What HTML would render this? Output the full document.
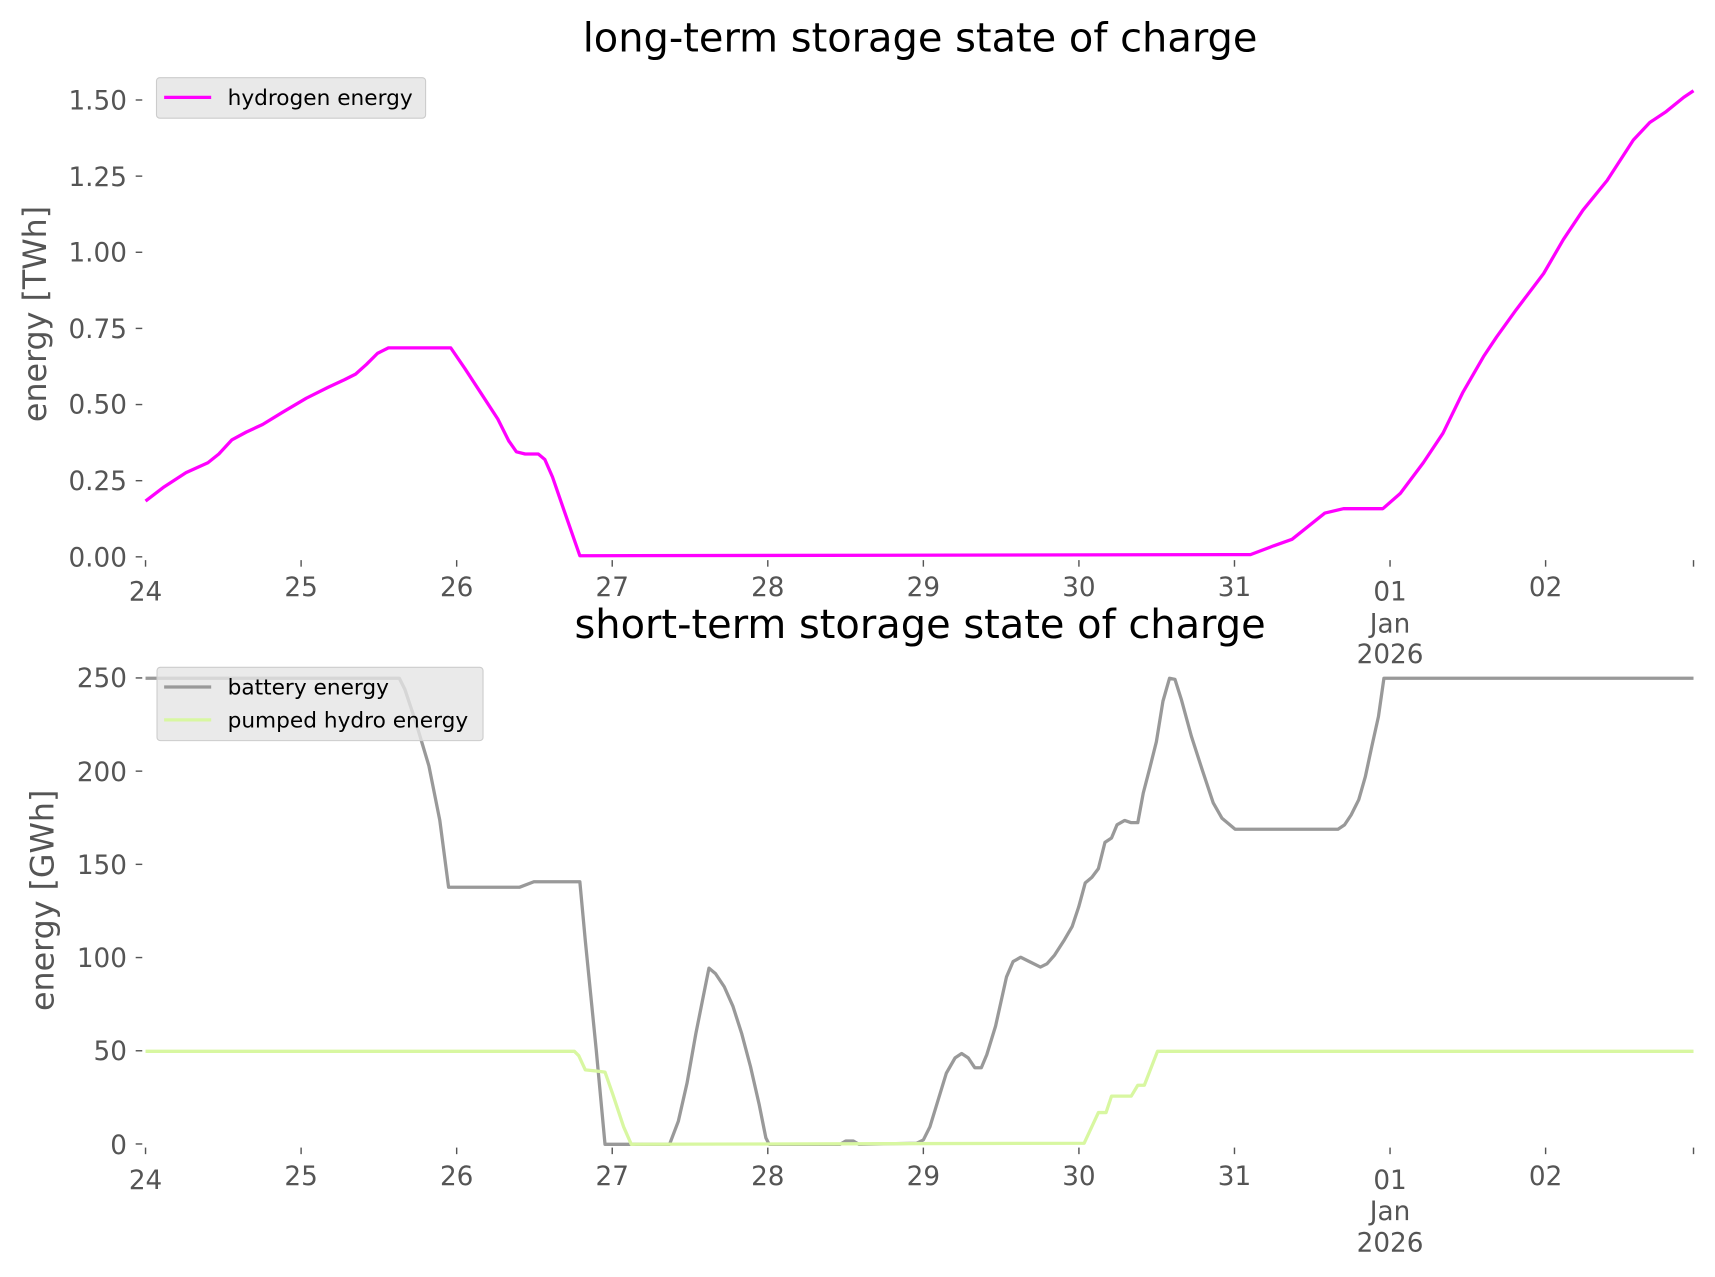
<!DOCTYPE html>
<html><head><meta charset="utf-8"><style>
html,body{margin:0;padding:0;background:#fff;}
svg{display:block;}
text{font-family:"DejaVu Sans","Liberation Sans",sans-serif;}
.t{fill:#555;font-size:24px;}
.tt{fill:#000;font-size:36.5px;}
.yl{fill:#555;font-size:29px;}
.lg{fill:#000;font-size:19.8px;}
</style></head><body>
<svg width="1715" height="1277" viewBox="0 0 1567.6 1167.3" xmlns="http://www.w3.org/2000/svg">
<rect width="1567.6" height="1167.3" fill="#fff"/>
<text class="tt" x="841" y="47" text-anchor="middle">long-term storage state of charge</text>
<text class="yl" transform="translate(42,287) rotate(-90)" text-anchor="middle">energy [TWh]</text>
<g stroke="#555" stroke-width="1.3">
<line x1="124" y1="509" x2="130" y2="509"/><line x1="124" y1="439.4" x2="130" y2="439.4"/><line x1="124" y1="369.8" x2="130" y2="369.8"/><line x1="124" y1="300.2" x2="130" y2="300.2"/><line x1="124" y1="230.6" x2="130" y2="230.6"/><line x1="124" y1="161" x2="130" y2="161"/><line x1="124" y1="91.4" x2="130" y2="91.4"/>
</g>
<g class="t" text-anchor="end">
<text x="116" y="518">0.00</text><text x="116" y="448">0.25</text><text x="116" y="378">0.50</text><text x="116" y="309">0.75</text><text x="116" y="239">1.00</text><text x="116" y="170">1.25</text><text x="116" y="100">1.50</text>
</g>
<g stroke="#555" stroke-width="1.3">
<line x1="133" y1="512" x2="133" y2="518"/><line x1="275.2" y1="512" x2="275.2" y2="518"/><line x1="417.4" y1="512" x2="417.4" y2="518"/><line x1="559.6" y1="512" x2="559.6" y2="518"/><line x1="701.8" y1="512" x2="701.8" y2="518"/><line x1="844" y1="512" x2="844" y2="518"/><line x1="986.2" y1="512" x2="986.2" y2="518"/><line x1="1128.4" y1="512" x2="1128.4" y2="518"/><line x1="1270.6" y1="512" x2="1270.6" y2="518"/><line x1="1412.8" y1="512" x2="1412.8" y2="518"/><line x1="1548" y1="512" x2="1548" y2="518"/>
</g>
<g class="t" text-anchor="middle">
<text x="133" y="549">24</text><text x="275.2" y="545">25</text><text x="417.4" y="545">26</text><text x="559.6" y="545">27</text><text x="701.8" y="545">28</text><text x="844" y="545">29</text><text x="986.2" y="545">30</text><text x="1128.4" y="545">31</text><text x="1270.6" y="549">01</text><text x="1270.6" y="578">Jan</text><text x="1270.6" y="606">2026</text><text x="1412.8" y="545">02</text>
</g>
<polyline fill="none" stroke="#ff00ff" stroke-width="3" stroke-linejoin="round" points="133,458 150,445 170,432 190,423 200,415 212,402 225,395 240,388 258,377 280,364 300,354 315,347 325,342 335,333 345,323 355,318 412,318 425,337 440,360 455,383 465,403 472,413 480,415 492,415 498,420 505,436 515,465 530,508 1124,507 1143,507 1164,499 1181,493 1211,469 1228,465 1264,465 1280,451 1301,423 1319,396 1337,359 1356,326 1368,308 1386,283 1411,250 1429,219 1447,192 1469,165 1493,128 1508,112 1523,102 1539,89 1548,83"/>
<rect x="143" y="71" width="246" height="37" rx="3" fill="#e5e5e5" fill-opacity="0.85" stroke="#cccccc" stroke-width="1"/>
<line x1="150" y1="89" x2="193" y2="89" stroke="#ff00ff" stroke-width="3"/>
<text class="lg" x="208" y="96">hydrogen energy</text>

<text class="tt" x="841" y="583" text-anchor="middle">short-term storage state of charge</text>
<text class="yl" transform="translate(49,823) rotate(-90)" text-anchor="middle">energy [GWh]</text>
<g stroke="#555" stroke-width="1.3">
<line x1="124" y1="1045.7" x2="130" y2="1045.7"/><line x1="124" y1="960.5" x2="130" y2="960.5"/><line x1="124" y1="875.3" x2="130" y2="875.3"/><line x1="124" y1="790.1" x2="130" y2="790.1"/><line x1="124" y1="704.9" x2="130" y2="704.9"/><line x1="124" y1="619.7" x2="130" y2="619.7"/>
</g>
<g class="t" text-anchor="end">
<text x="116" y="1055">0</text><text x="116" y="969">50</text><text x="116" y="884">100</text><text x="116" y="799">150</text><text x="116" y="714">200</text><text x="116" y="628">250</text>
</g>
<g stroke="#555" stroke-width="1.3">
<line x1="133" y1="1049" x2="133" y2="1055"/><line x1="275.2" y1="1049" x2="275.2" y2="1055"/><line x1="417.4" y1="1049" x2="417.4" y2="1055"/><line x1="559.6" y1="1049" x2="559.6" y2="1055"/><line x1="701.8" y1="1049" x2="701.8" y2="1055"/><line x1="844" y1="1049" x2="844" y2="1055"/><line x1="986.2" y1="1049" x2="986.2" y2="1055"/><line x1="1128.4" y1="1049" x2="1128.4" y2="1055"/><line x1="1270.6" y1="1049" x2="1270.6" y2="1055"/><line x1="1412.8" y1="1049" x2="1412.8" y2="1055"/><line x1="1548" y1="1049" x2="1548" y2="1055"/>
</g>
<g class="t" text-anchor="middle">
<text x="133" y="1087">24</text><text x="275.2" y="1083">25</text><text x="417.4" y="1083">26</text><text x="559.6" y="1083">27</text><text x="701.8" y="1083">28</text><text x="844" y="1083">29</text><text x="986.2" y="1083">30</text><text x="1128.4" y="1083">31</text><text x="1270.6" y="1087">01</text><text x="1270.6" y="1115">Jan</text><text x="1270.6" y="1144">2026</text><text x="1412.8" y="1083">02</text>
</g>
<polyline fill="none" stroke="#999999" stroke-width="3" stroke-linejoin="round" points="133,620 365,620 370,630 380,660 392,700 402,750 410,811 475,811 488,806 530,806 535,860 545,960 553,1046 612,1046 620,1025 628,990 636,945 642,915 648,885 654,890 662,902 670,920 678,945 686,975 694,1010 700,1040 703,1046 768,1046 773,1043 780,1043 785,1046 838,1045 844,1042 850,1030 865,981 873,967 879,963 885,967 891,976 897,976 902,964 910,938 920,893 926,879 933,875 941,879 951,884 957,881 964,873 973,859 980,847 986,829 992,807 998,802 1004,794 1010,770 1016,766 1021,754 1028,750 1034,752 1040,752 1045,725 1051,702 1057,678 1063,641 1069,620 1074,621 1080,640 1089,673 1099,704 1109,734 1117,748 1129,758 1223,758 1229,754 1235,745 1242,731 1248,710 1254,682 1260,655 1265,620 1548,620"/>
<polyline fill="none" stroke="#d8f7a1" stroke-width="3" stroke-linejoin="round" points="133,961 525,961 529,965 535,978 545,979 553,980 560,1000 570,1030 577,1046 991,1045 1004,1017 1011,1017 1016,1002 1034,1002 1040,992 1046,992 1058,961 1548,961"/>
<rect x="143.5" y="610" width="298" height="67" rx="3" fill="#e5e5e5" fill-opacity="0.8" stroke="#cccccc" stroke-width="1"/>
<line x1="150" y1="628" x2="193" y2="628" stroke="#999999" stroke-width="3"/>
<text class="lg" x="208" y="635">battery energy</text>
<line x1="150" y1="658" x2="193" y2="658" stroke="#d8f7a1" stroke-width="3"/>
<text class="lg" x="208" y="665">pumped hydro energy</text>
</svg>
</body></html>
